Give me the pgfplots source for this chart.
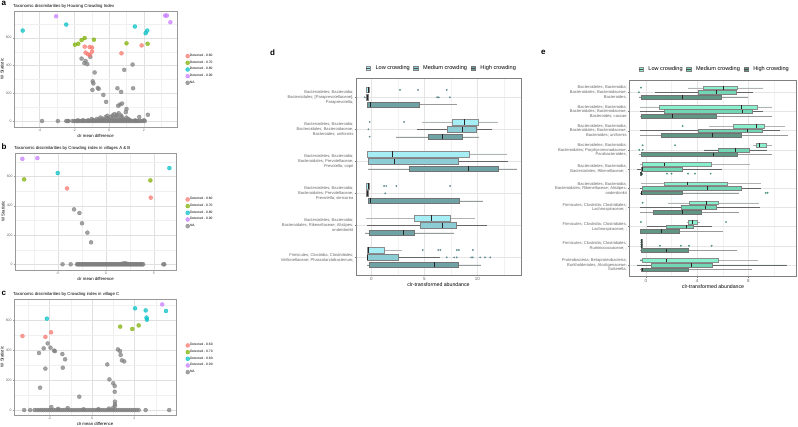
\documentclass[border=0pt]{standalone}
\usepackage{fontspec}
\setmainfont{Liberation Sans}
\usepackage{pgfplots}
\pgfplotsset{compat=1.18}
\usepgfplotslibrary{statistics}
\definecolor{dred}{HTML}{F8766D}
\definecolor{dgreen}{HTML}{7CAE00}
\definecolor{dcyan}{HTML}{00BFC4}
\definecolor{dpurple}{HTML}{C77CFF}
\definecolor{dgray}{HTML}{7F7F7F}
\definecolor{dlow}{RGB}{165,238,245}
\definecolor{dmed}{RGB}{140,204,212}
\definecolor{dhigh}{RGB}{110,162,165}
\definecolor{elow}{RGB}{135,240,205}
\definecolor{emed}{RGB}{112,214,180}
\definecolor{ehigh}{RGB}{95,150,132}
\pgfplotsset{
  volc/.style={scale only axis, anchor=north west,
    grid=both, major grid style={black!12, line width=0.35pt}, minor grid style={black!6, line width=0.25pt},
    axis line style={black!40, line width=0.4pt}, tick pos=left, tick style={black!40, line width=0.3pt},
    major tick length=1.2pt, minor tick length=0pt, tick align=outside,
    ticklabel style={font=\fontsize{3.5}{4}\selectfont, text=black!60, inner sep=1pt},
    /pgf/number format/assume math mode=true,
    label style={font=\fontsize{4.3}{5}\selectfont, inner sep=1pt},
    xlabel={clr mean difference}, ylabel={W Statistic},
    every axis title shift=0pt,
    title style={font=\fontsize{4.3}{5}\selectfont, at={(0,1)}, anchor=base west, inner sep=0pt, yshift=3.5pt, xshift=-1pt},
    legend style={anchor=north west, draw=none, fill=none, font=\fontsize{3.3}{4}\selectfont, row sep=2.2pt, inner sep=0pt, nodes={inner sep=0.3pt}, /tikz/every even column/.append style={column sep=1.8pt}},
    legend cell align=left},
  pt/.style={only marks, mark=*, mark size=2.0pt, color=#1, mark options={fill=#1, draw=#1, fill opacity=0.72, draw opacity=0.72}, forget plot},
  dotleg/.style={only marks, mark=*, mark size=2.0pt, color=#1, mark options={fill=#1, draw=#1, fill opacity=0.72, draw opacity=0.72}, legend image code/.code={\draw[##1] plot coordinates {(2.2pt,0pt)};}},
  boxax/.style={scale only axis, anchor=north west, y dir=reverse,
    grid=both, major grid style={black!10, line width=0.35pt}, minor grid style={black!5, line width=0.25pt},
    axis line style={black!50, line width=0.45pt}, tick pos=left, tick style={black!50, line width=0.3pt},
    major tick length=1.4pt, minor tick length=0pt, tick align=outside,
    xticklabel style={font=\fontsize{4.5}{5}\selectfont, text=black!60, inner sep=1pt},
    yticklabel style={font=\fontsize{4.1}{4.8}\selectfont, text=black!60, align=right, inner sep=1pt},
    /pgf/number format/assume math mode=true,
    xlabel={clr-transformed abundance}, xlabel style={font=\fontsize{5.2}{6}\selectfont, inner sep=1pt},
    boxplot/draw direction=x, boxplot/whisker extend=0,
    legend columns=3, legend style={draw=none, fill=none, font=\fontsize{5.6}{6.5}\selectfont, anchor=south, inner sep=0pt, /tikz/every even column/.append style={column sep=1.5pt}, /tikz/every odd column/.append style={column sep=3pt}},
    legend image code/.code={\draw[#1, line width=0.35pt] (0pt,-2.2pt) rectangle (4.4pt,2.2pt); \draw[black!70, line width=0.5pt] (0pt,0pt) -- (4.4pt,0pt);}},
  dlo/.style={fill=dlow, draw=black!45, line width=0.35pt, boxplot/every whisker/.style={draw=black!30}, boxplot/every median/.style={draw=black!85, line width=0.8pt}, forget plot},
  dme/.style={fill=dmed, draw=black!50, line width=0.35pt, boxplot/every whisker/.style={draw=black!60}, boxplot/every median/.style={draw=black!85, line width=0.8pt}, forget plot},
  dhi/.style={fill=dhigh, draw=black!55, line width=0.35pt, boxplot/every whisker/.style={draw=black!40}, boxplot/every median/.style={draw=black!85, line width=0.8pt}, forget plot},
  elo/.style={fill=elow, draw=black!45, line width=0.35pt, boxplot/every whisker/.style={draw=black!30}, boxplot/every median/.style={draw=black!85, line width=0.8pt}, forget plot},
  eme/.style={fill=emed, draw=black!50, line width=0.35pt, boxplot/every whisker/.style={draw=black!60}, boxplot/every median/.style={draw=black!85, line width=0.8pt}, forget plot},
  ehi/.style={fill=ehigh, draw=black!55, line width=0.35pt, boxplot/every whisker/.style={draw=black!40}, boxplot/every median/.style={draw=black!85, line width=0.8pt}, forget plot},
  outl/.style={only marks, mark=*, mark size=0.7pt, color=#1, mark options={draw=#1, fill=#1}, forget plot},
}
\begin{document}
\begin{tikzpicture}
\useasboundingbox (0,0) rectangle (798pt,427pt);
\node[anchor=north west, font=\bfseries\fontsize{8}{8}\selectfont, inner sep=0pt] at (1.5pt,425.5pt) {a};
\node[anchor=north west, font=\bfseries\fontsize{8}{8}\selectfont, inner sep=0pt] at (1.5pt,283pt) {b};
\node[anchor=north west, font=\bfseries\fontsize{8}{8}\selectfont, inner sep=0pt] at (1.5pt,136pt) {c};
\node[anchor=north west, font=\bfseries\fontsize{8}{8}\selectfont, inner sep=0pt] at (270pt,377pt) {d};
\node[anchor=north west, font=\bfseries\fontsize{8}{8}\selectfont, inner sep=0pt] at (541pt,377pt) {e};

% ---------------- panel a
\begin{axis}[volc, at={(14pt,416pt)}, width=163pt, height=116pt,
  xmin=-5.46, xmax=3.9, ymin=-43, ymax=793,
  xtick={-4,-2,0,2}, minor xtick={-5,-3,-1,1,3}, ytick={0,200,400,600}, minor ytick={100,300,500,700},
  title={Taxonomic dissimilarities by Housing Crowding Index},
  legend style={at={(1.052,0.632)}}]
\addplot[pt=dgray] coordinates {(-3.85,0) (-2.94,0) (-2.46,0) (-2.38,0) (-2.33,0)
 (-2.1,0) (-2.0,0) (-1.9,0) (-1.8,0) (-1.7,0) (-1.6,0) (-1.5,0) (-1.4,0) (-1.3,0) (-1.2,0) (-1.1,0) (-1.0,0) (-0.9,0) (-0.8,0) (-0.7,0) (-0.6,0) (-0.5,0) (-0.4,0) (-0.3,0) (-0.2,0) (-0.1,0) (0.0,0) (0.1,0) (0.2,0) (0.3,0) (0.4,0) (0.5,0) (0.6,0) (0.7,0) (0.8,0) (0.9,0) (1.0,0) (1.1,0) (1.2,0) (1.3,0) (1.4,0) (1.5,0) (1.6,0) (1.7,0) (1.8,0) (1.9,0) (2.05,0)
 (-1.8,5) (-1.5,6) (-1.2,5) (-0.9,7) (-0.6,8) (-0.3,9) (0.0,10) (0.3,10) (0.6,9) (0.9,8) (1.2,6) (1.5,5)
 (-1.0,14) (-0.7,15) (-0.4,17) (-0.1,19) (0.2,20) (0.5,21) (0.8,18) (1.1,14)
 (-0.5,25) (-0.2,28) (0.1,30) (0.4,32) (0.7,29) (1.0,24) (-0.1,38) (0.2,40) (0.45,44) (0.7,40) (0.3,50) (0.55,56)
 (-1.58,450) (-1.35,433) (-1.25,410) (-1.08,462) (-1.42,417) (-0.83,350) (-0.94,286) (-0.9,271) (-0.96,224) (-0.65,238) (-0.6,232) (-0.33,188) (-0.17,138)
 (0.48,236) (0.69,210) (0.87,369) (1.35,407) (1.38,236) (0.75,126) (0.62,119) (0.52,110) (1.0,86) (0.96,64) (1.73,29) (2.23,45) (2.0,5)};
\addplot[pt=dred] coordinates {(-1.4,536) (-1.12,533) (-0.98,529) (-1.35,493) (-1.21,481) (-0.98,500) (-1.1,476) (0.71,488) (1.87,545)};
\addplot[pt=dgreen] coordinates {(-1.96,550) (-1.77,557) (-1.58,583) (-1.4,598) (-0.87,586) (1.0,560) (2.21,557)};
\addplot[pt=dcyan] coordinates {(-4.96,652) (-2.46,695) (1.48,681) (2.1,633) (2.19,652)};
\addplot[pt=dpurple] coordinates {(-3.04,755) (3.22,760) (3.32,760) (3.52,712)};
\addlegendimage{dotleg=dred}\addlegendentry{Detected - 0.60}
\addlegendimage{dotleg=dgreen}\addlegendentry{Detected - 0.70}
\addlegendimage{dotleg=dcyan}\addlegendentry{Detected - 0.80}
\addlegendimage{dotleg=dpurple}\addlegendentry{Detected - 0.90}
\addlegendimage{dotleg=dgray}\addlegendentry{NA}
\node[anchor=west, font=\fontsize{3.9}{4}\selectfont, inner sep=0pt] at (rel axis cs:1.037,0.675) {Detection};
\end{axis}

% ---------------- panel b
\begin{axis}[volc, at={(15pt,274pt)}, width=161pt, height=117pt,
  xmin=-9.45, xmax=7.32, ymin=-39, ymax=760,
  xtick={-5,0,5}, minor xtick={-7.5,-2.5,2.5}, ytick={0,200,400,600}, minor ytick={100,300,500,700},
  title={Taxonomic dissimilarities by Crowding index in villages A \& B},
  legend style={at={(1.059,0.624)}}]
\addplot[pt=dgray] coordinates {(-4.5,0) (-3.65,0) (6.0,0) (6.1,0)
 (-3.0,0) (-2.9,0) (-2.8,0) (-2.7,0) (-2.6,0) (-2.5,0) (-2.4,0) (-2.3,0) (-2.2,0) (-2.1,0) (-2.0,0) (-1.9,0) (-1.8,0) (-1.7,0) (-1.6,0) (-1.5,0) (-1.4,0) (-1.3,0) (-1.2,0) (-1.1,0) (-1.0,0) (-0.9,0) (-0.8,0) (-0.7,0) (-0.6,0) (-0.5,0) (-0.4,0) (-0.3,0) (-0.2,0) (-0.1,0) (0.0,0) (0.1,0) (0.2,0) (0.3,0) (0.4,0) (0.5,0) (0.6,0) (0.7,0) (0.8,0) (0.9,0) (1.0,0) (1.1,0) (1.2,0) (1.3,0) (1.4,0) (1.5,0) (1.6,0) (1.7,0) (1.8,0) (1.9,0) (2.0,0) (2.1,0) (2.2,0) (2.3,0) (2.4,0) (2.5,0) (2.6,0) (2.7,0) (2.8,0) (2.9,0) (3.0,0) (3.1,0) (3.2,0) (3.3,0) (3.4,0) (3.5,0) (3.6,0) (3.7,0) (3.8,0) (3.9,0)
 (1.7,4) (1.94,7) (2.1,5) (2.3,3)
 (-3.3,375) (-2.74,350) (-2.47,280) (-1.91,216) (-1.53,150)};
\addplot[pt=dred] coordinates {(-4.03,518) (4.69,455)};
\addplot[pt=dgreen] coordinates {(-8.5,580) (4.65,573)};
\addplot[pt=dcyan] coordinates {(-5.0,623) (6.63,657)};
\addplot[pt=dpurple] coordinates {(-8.68,720) (-7.12,725)};
\addlegendimage{dotleg=dred}\addlegendentry{Detected - 0.60}
\addlegendimage{dotleg=dgreen}\addlegendentry{Detected - 0.70}
\addlegendimage{dotleg=dcyan}\addlegendentry{Detected - 0.80}
\addlegendimage{dotleg=dpurple}\addlegendentry{Detected - 0.90}
\addlegendimage{dotleg=dgray}\addlegendentry{NA}
\node[anchor=west, font=\fontsize{3.9}{4}\selectfont, inner sep=0pt] at (rel axis cs:1.043,0.667) {Detection};
\end{axis}

% ---------------- panel c
\begin{axis}[volc, at={(14pt,128pt)}, width=162pt, height=116pt,
  xmin=-3.68, xmax=3.96, ymin=-33, ymax=740,
  xtick={-2,0,2}, minor xtick={-3,-1,1,3}, ytick={0,200,400,600}, minor ytick={100,300,500,700},
  title={Taxonomic dissimilarities by Crowding index in village C},
  legend style={at={(1.059,0.621)}}]
\addplot[pt=dgray] coordinates {(-3.2,0) (-2.92,0) (-2.71,0)
 (-2.6,0) (-2.5,0) (-2.4,0) (-2.3,0) (-2.2,0) (-2.1,0) (-2.0,0) (-1.9,0) (-1.8,0) (-1.7,0) (-1.6,0) (-1.5,0) (-1.4,0) (-1.3,0) (-1.2,0) (-1.1,0) (-1.0,0) (-0.9,0) (-0.8,0) (-0.7,0) (-0.6,0) (-0.5,0) (-0.4,0) (-0.3,0) (-0.2,0) (-0.1,0) (0.0,0) (0.1,0) (0.2,0) (0.3,0) (0.4,0) (0.5,0) (0.6,0) (0.7,0) (0.8,0) (0.9,0) (1.0,0) (1.1,0) (1.2,0) (1.3,0) (1.4,0) (1.5,0) (1.6,0) (1.7,0) (1.8,0) (1.9,0) (2.0,0) (2.1,0) (2.2,0) (2.53,0) (3.64,0)
 (-1.92,20) (-1.15,13) (-1.6,8) (-0.4,5) (0.3,6) (0.8,10) (1.0,15)
 (-2.09,444) (-2.28,411) (-2.5,380) (-1.96,416) (-1.79,396) (-1.75,392) (-1.4,373) (-1.27,338) (-2.2,276) (-1.38,282) (-2.45,149) (-0.6,89)
 (0.72,304) (0.82,204) (1.0,178) (1.07,160) (1.07,122) (1.22,404) (1.32,393) (1.35,367) (1.41,331) (1.52,324) (1.08,56) (1.08,38) (1.08,27)};
\addplot[pt=dred] coordinates {(-3.28,493) (-2.2,487) (-1.93,518)};
\addplot[pt=dgreen] coordinates {(1.33,556) (1.9,540) (2.2,564)};
\addplot[pt=dcyan] coordinates {(-2.13,609) (2.03,678) (2.53,664) (2.57,616) (2.59,602) (3.49,660)};
\addplot[pt=dpurple] coordinates {(3.31,704)};
\addlegendimage{dotleg=dred}\addlegendentry{Detected - 0.60}
\addlegendimage{dotleg=dgreen}\addlegendentry{Detected - 0.70}
\addlegendimage{dotleg=dcyan}\addlegendentry{Detected - 0.80}
\addlegendimage{dotleg=dpurple}\addlegendentry{Detected - 0.90}
\addlegendimage{dotleg=dgray}\addlegendentry{NA}
\node[anchor=west, font=\fontsize{3.9}{4}\selectfont, inner sep=0pt] at (rel axis cs:1.043,0.664) {Detection};
\end{axis}

% ---------------- panel d
\begin{axis}[boxax, at={(356pt,349pt)}, width=165pt, height=197pt,
  xmin=-1.45, xmax=14.1, ymin=0.397, ymax=6.55,
  xtick={0,5,10}, minor xtick={2.5,7.5,12.5}, ytick={1,2,3,4,5,6},
  yticklabel style={font=\fontsize{4.1}{5}\selectfont},
  yticklabels={{Bacteroidetes; Bacteroidia;\\Bacteroidales; [Paraprevotellaceae];\\Paraprevotella;},
    {Bacteroidetes; Bacteroidia;\\Bacteroidales; Bacteroidaceae;\\Bacteroides; uniformis},
    {Bacteroidetes; Bacteroidia;\\Bacteroidales; Prevotellaceae;\\Prevotella; copri},
    {Bacteroidetes; Bacteroidia;\\Bacteroidales; Prevotellaceae;\\Prevotella; stercorea},
    {Bacteroidetes; Bacteroidia;\\Bacteroidales; Rikenellaceae; Alistipes;\\onderdonkii},
    {Firmicutes; Clostridia; Clostridiales;\\Veillonellaceae; Phascolarctobacterium;}},
  boxplot/box extend=0.17,
  legend style={at={(0.52,1)}, yshift=5pt}]
\addlegendimage{fill=dlow, draw=black!45}\addlegendentry{Low crowding}
\addlegendimage{fill=dmed, draw=black!50}\addlegendentry{Medium crowding}
\addlegendimage{fill=dhigh, draw=black!55}\addlegendentry{High crowding}
% group 1
\addplot[dlo, boxplot prepared={draw position=0.77, lower whisker=-0.5, lower quartile=-0.45, median=-0.3, upper quartile=-0.25, upper whisker=-0.2}] coordinates {};
\addplot[dme, boxplot prepared={draw position=1.00, lower whisker=-0.55, lower quartile=-0.5, median=-0.35, upper quartile=-0.3, upper whisker=-0.25}] coordinates {};
\addplot[dhi, boxplot prepared={draw position=1.23, lower whisker=-0.44, lower quartile=-0.38, median=-0.13, upper quartile=4.5, upper whisker=8.05}] coordinates {};
\addplot[outl=dlow!60!black] coordinates {(2.7,0.77) (4.4,0.77) (7.1,0.77) (6.2,1.0) (6.35,1.0) (7.4,1.0) (-0.62,1.0)};
% group 2
\addplot[dlo, boxplot prepared={draw position=1.77, lower whisker=4.81, lower quartile=7.58, median=8.74, upper quartile=10.1, upper whisker=11.9}] coordinates {};
\addplot[dme, boxplot prepared={draw position=2.00, lower whisker=4.28, lower quartile=7.14, median=8.58, upper quartile=9.87, upper whisker=11.35}] coordinates {};
\addplot[dhi, boxplot prepared={draw position=2.23, lower whisker=2.3, lower quartile=5.38, median=6.67, upper quartile=8.58, upper whisker=10.1}] coordinates {};
\addplot[outl=dlow!60!black] coordinates {(-0.16,1.77) (3.08,1.77) (-0.28,2.0) (-0.16,2.23)};
% group 3
\addplot[dlo, boxplot prepared={draw position=2.77, lower whisker=-0.38, lower quartile=-0.38, median=1.98, upper quartile=9.18, upper whisker=12.77}] coordinates {};
\addplot[dme, boxplot prepared={draw position=3.00, lower whisker=-0.28, lower quartile=-0.28, median=2.2, upper quartile=8.14, upper whisker=12.86}] coordinates {};
\addplot[dhi, boxplot prepared={draw position=3.23, lower whisker=-0.28, lower quartile=3.58, median=9.15, upper quartile=11.92, upper whisker=13.7}] coordinates {};
% group 4
\addplot[dlo, boxplot prepared={draw position=3.77, lower whisker=-0.5, lower quartile=-0.45, median=-0.3, upper quartile=-0.2, upper whisker=-0.15}] coordinates {};
\addplot[dme, boxplot prepared={draw position=4.00, lower whisker=-0.55, lower quartile=-0.5, median=-0.35, upper quartile=-0.3, upper whisker=-0.25}] coordinates {};
\addplot[dhi, boxplot prepared={draw position=4.23, lower whisker=-0.31, lower quartile=-0.31, median=-0.13, upper quartile=8.3, upper whisker=10.5}] coordinates {};
\addplot[outl=dlow!60!black] coordinates {(1.2,3.77) (1.4,3.77) (2.36,3.77) (7.42,3.77) (1.3,4.0)};
% group 5
\addplot[dlo, boxplot prepared={draw position=4.77, lower whisker=-0.53, lower quartile=4.06, median=5.66, upper quartile=7.39, upper whisker=9.75}] coordinates {};
\addplot[dme, boxplot prepared={draw position=5.00, lower whisker=-0.38, lower quartile=4.59, median=6.73, upper quartile=8.02, upper whisker=10.9}] coordinates {};
\addplot[dhi, boxplot prepared={draw position=5.23, lower whisker=-0.6, lower quartile=-0.19, median=3.05, upper quartile=4.03, upper whisker=7.74}] coordinates {};
% group 6
\addplot[dlo, boxplot prepared={draw position=5.77, lower whisker=-0.38, lower quartile=-0.38, median=-0.28, upper quartile=1.16, upper whisker=2.86}] coordinates {};
\addplot[dme, boxplot prepared={draw position=6.00, lower whisker=-0.44, lower quartile=-0.44, median=-0.35, upper quartile=2.5, upper whisker=6.48}] coordinates {};
\addplot[dhi, boxplot prepared={draw position=6.23, lower whisker=-0.38, lower quartile=-0.19, median=5.97, upper quartile=8.2, upper whisker=10.35}] coordinates {};
\addplot[outl=dlow!60!black] coordinates {(4.84,5.77) (6.3,5.77) (6.5,5.77) (8.05,5.77) (8.24,5.77) (9.56,5.77)
  (7.1,6.0) (7.8,6.0) (8.05,6.0) (9.4,6.0) (9.56,6.0) (10.25,6.0) (10.7,6.0) (11.2,6.0)};
\end{axis}

% ---------------- panel e
\begin{axis}[boxax, at={(629.3pt,347pt)}, width=167.4pt, height=196.7pt,
  xmin=-1.3, xmax=11.77, ymin=0.359, ymax=10.61,
  xtick={0,4,8}, minor xtick={2,6,10}, ytick={1,2,3,4,5,6,7,8,9,10},
  yticklabel style={font=\fontsize{4.1}{4.67}\selectfont},
  yticklabels={{Bacteroidetes; Bacteroidia;\\Bacteroidales; Bacteroidaceae;\\Bacteroides;},
    {Bacteroidetes; Bacteroidia;\\Bacteroidales; Bacteroidaceae;\\Bacteroides; caccae},
    {Bacteroidetes; Bacteroidia;\\Bacteroidales; Bacteroidaceae;\\Bacteroides; uniformis},
    {Bacteroidetes; Bacteroidia;\\Bacteroidales; Porphyromonadaceae;\\Parabacteroides;},
    {Bacteroidetes; Bacteroidia;\\Bacteroidales; Rikenellaceae; ;},
    {Bacteroidetes; Bacteroidia;\\Bacteroidales; Rikenellaceae; Alistipes;\\onderdonkii},
    {Firmicutes; Clostridia; Clostridiales;\\Lachnospiraceae; ;},
    {Firmicutes; Clostridia; Clostridiales;\\Lachnospiraceae; ;},
    {Firmicutes; Clostridia; Clostridiales;\\Ruminococcaceae; ;},
    {Proteobacteria; Betaproteobacteria;\\Burkholderiales; Alcaligenaceae;\\Sutterella;}},
  boxplot/box extend=0.19,
  legend style={at={(0.51,1)}, yshift=6pt}]
\addlegendimage{fill=elow, draw=black!45}\addlegendentry{Low crowding}
\addlegendimage{fill=emed, draw=black!50}\addlegendentry{Medium crowding}
\addlegendimage{fill=ehigh, draw=black!55}\addlegendentry{High crowding}
% 1
\addplot[elo, boxplot prepared={draw position=0.76, lower whisker=3.3, lower quartile=4.48, median=6.02, upper quartile=7.16, upper whisker=9.17}] coordinates {};
\addplot[eme, boxplot prepared={draw position=1.00, lower whisker=0.7, lower quartile=4.09, median=5.52, upper quartile=7.08, upper whisker=8.33}] coordinates {};
\addplot[ehi, boxplot prepared={draw position=1.24, lower whisker=-0.55, lower quartile=-0.39, median=2.86, upper quartile=5.91, upper whisker=8.0}] coordinates {};
% 2
\addplot[elo, boxplot prepared={draw position=1.76, lower whisker=-0.47, lower quartile=1.04, median=7.45, upper quartile=8.7, upper whisker=9.82}] coordinates {};
\addplot[eme, boxplot prepared={draw position=2.00, lower whisker=-0.47, lower quartile=1.43, median=7.5, upper quartile=8.26, upper whisker=9.17}] coordinates {};
\addplot[ehi, boxplot prepared={draw position=2.24, lower whisker=-0.47, lower quartile=-0.34, median=2.08, upper quartile=5.52, upper whisker=9.82}] coordinates {};
% 3
\addplot[elo, boxplot prepared={draw position=2.76, lower whisker=4.95, lower quartile=6.82, median=8.65, upper quartile=9.24, upper whisker=10.86}] coordinates {};
\addplot[eme, boxplot prepared={draw position=3.00, lower whisker=-0.47, lower quartile=4.09, median=7.92, upper quartile=9.04, upper whisker=10.47}] coordinates {};
\addplot[ehi, boxplot prepared={draw position=3.24, lower whisker=-0.47, lower quartile=1.15, median=5.2, upper quartile=7.42, upper whisker=11.12}] coordinates {};
% 4
\addplot[elo, boxplot prepared={draw position=3.76, lower whisker=8.39, lower quartile=8.57, median=8.88, upper quartile=9.35, upper whisker=9.87}] coordinates {};
\addplot[eme, boxplot prepared={draw position=4.00, lower whisker=4.53, lower quartile=5.65, median=7.0, upper quartile=8.05, upper whisker=9.43}] coordinates {};
\addplot[ehi, boxplot prepared={draw position=4.24, lower whisker=-0.55, lower quartile=-0.39, median=5.23, upper quartile=7.14, upper whisker=9.87}] coordinates {};
% 5
\addplot[elo, boxplot prepared={draw position=4.76, lower whisker=-0.47, lower quartile=-0.29, median=1.41, upper quartile=5.13, upper whisker=8.13}] coordinates {};
\addplot[eme, boxplot prepared={draw position=5.00, lower whisker=-0.68, lower quartile=-0.39, median=-0.29, upper quartile=2.79, upper whisker=5.91}] coordinates {};
\addplot[ehi, boxplot prepared={draw position=5.24, lower whisker=-0.45, lower quartile=-0.42, median=-0.38, upper quartile=-0.34, upper whisker=-0.3}] coordinates {};
% 6
\addplot[elo, boxplot prepared={draw position=5.76, lower whisker=-0.39, lower quartile=1.43, median=3.26, upper quartile=6.35, upper whisker=8.96}] coordinates {};
\addplot[eme, boxplot prepared={draw position=6.00, lower whisker=-0.47, lower quartile=-0.29, median=4.79, upper quartile=7.4, upper whisker=8.96}] coordinates {};
\addplot[ehi, boxplot prepared={draw position=6.24, lower whisker=-0.5, lower quartile=-0.39, median=-0.34, upper quartile=2.79, upper whisker=7.29}] coordinates {};
% 7
\addplot[elo, boxplot prepared={draw position=6.76, lower whisker=1.69, lower quartile=3.39, median=4.71, upper quartile=5.65, upper whisker=8.85}] coordinates {};
\addplot[eme, boxplot prepared={draw position=7.00, lower whisker=-0.47, lower quartile=2.76, median=4.64, upper quartile=5.52, upper whisker=8.9}] coordinates {};
\addplot[ehi, boxplot prepared={draw position=7.24, lower whisker=-0.5, lower quartile=0.57, median=2.84, upper quartile=4.35, upper whisker=7.27}] coordinates {};
% 8
\addplot[elo, boxplot prepared={draw position=7.76, lower whisker=3.18, lower quartile=3.3, median=3.62, upper quartile=4.01, upper whisker=4.22}] coordinates {};
\addplot[eme, boxplot prepared={draw position=8.00, lower whisker=0.05, lower quartile=1.56, median=3.13, upper quartile=3.7, upper whisker=5.13}] coordinates {};
\addplot[ehi, boxplot prepared={draw position=8.24, lower whisker=-0.5, lower quartile=-0.42, median=1.17, upper quartile=2.6, upper whisker=5.99}] coordinates {};
% 9
\addplot[elo, boxplot prepared={draw position=8.76, lower whisker=-0.4, lower quartile=-0.37, median=-0.35, upper quartile=-0.33, upper whisker=-0.3}] coordinates {};
\addplot[eme, boxplot prepared={draw position=9.00, lower whisker=-0.4, lower quartile=-0.37, median=-0.35, upper quartile=-0.33, upper whisker=-0.3}] coordinates {};
\addplot[ehi, boxplot prepared={draw position=9.24, lower whisker=-0.47, lower quartile=-0.34, median=1.61, upper quartile=3.26, upper whisker=7.14}] coordinates {};
% 10
\addplot[elo, boxplot prepared={draw position=9.76, lower whisker=-0.39, lower quartile=-0.29, median=1.61, upper quartile=5.65, upper whisker=8.78}] coordinates {};
\addplot[eme, boxplot prepared={draw position=10.00, lower whisker=-0.68, lower quartile=0.44, median=3.52, upper quartile=5.18, upper whisker=10.99}] coordinates {};
\addplot[ehi, boxplot prepared={draw position=10.24, lower whisker=-0.5, lower quartile=-0.39, median=-0.26, upper quartile=3.26, upper whisker=8.26}] coordinates {};
\addplot[outl=emed!70!black] coordinates {(-0.39,0.76) (-0.55,1.0) (2.86,2.76) (-0.26,3.76) (2.27,3.76) (-0.52,4.0) (-0.26,4.0)
  (1.64,5.24) (2.0,5.24) (3.28,5.24) (3.83,5.24) (5.05,5.24) (9.35,6.24) (9.5,6.24) (-0.26,6.76) (-0.39,7.76) (6.25,7.76)
  (1.09,9.0) (2.73,9.0) (3.36,9.0) (5.13,9.0) (-0.39,9.76)};
\addplot[outl=ehigh!50!black] coordinates {(-0.38,5.2) (-0.33,5.28) (-0.35,8.7) (-0.35,8.82) (-0.35,8.94) (-0.35,9.06)};
\end{axis}
\end{tikzpicture}
\end{document}
